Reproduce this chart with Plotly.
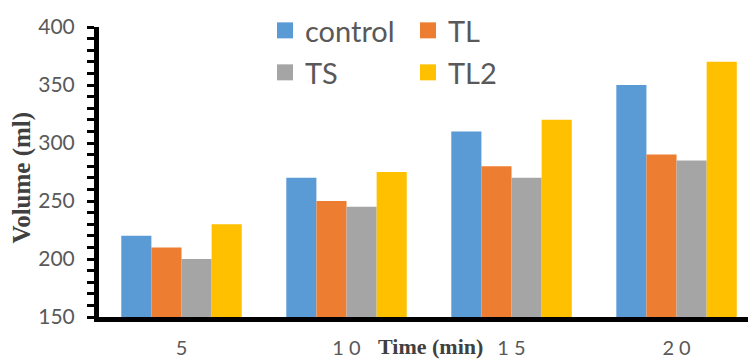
import plotly.graph_objects as go

categories = ["5", "10", "15", "20"]
tick_labels = ["5", "1 0", "1 5", "2 0"]
control = [220, 270, 310, 350]
tl = [210, 250, 280, 290]
ts = [200, 245, 270, 285]
tl2 = [230, 275, 320, 370]

series = [("control", control, "#5B9BD5", "legend"),
          ("TL", tl, "#ED7D31", "legend"),
          ("TS", ts, "#A5A5A5", "legend2"),
          ("TL2", tl2, "#FFC000", "legend2")]

W, H = 748, 359
fig = go.Figure()
for name, vals, col, lg in series:
    fig.add_trace(go.Bar(x=categories, y=vals, name=name, marker_color=col,
                         marker_line_width=0, showlegend=False))
for name, vals, col, lg in series:
    fig.add_trace(go.Scatter(x=[None], y=[None], mode="markers", name=name,
                             marker=dict(symbol="square", size=16, color=col),
                             legend=lg, showlegend=True))

legend_font = dict(family="Lato", size=29, color="#595959")
fig.update_layout(
    width=W, height=H,
    margin=dict(l=99, r=0, t=27, b=42, autoexpand=False),
    paper_bgcolor="white", plot_bgcolor="white",
    barmode="group", bargap=0.27, bargroupgap=0,
    font=dict(family="Lato", color="#595959"),
    legend=dict(orientation="h", xref="container", yref="container",
                x=265 / W, y=1 - 5 / H, xanchor="left", yanchor="top",
                entrywidthmode="pixels", entrywidth=98,
                font=legend_font, bgcolor="rgba(0,0,0,0)", itemsizing="trace"),
    legend2=dict(orientation="h", xref="container", yref="container",
                 x=265 / W, y=1 - 47 / H, xanchor="left", yanchor="top",
                 entrywidthmode="pixels", entrywidth=98,
                 font=legend_font, bgcolor="rgba(0,0,0,0)", itemsizing="trace"),
    xaxis=dict(type="category", range=[-0.5, 3.433], showline=True,
               linecolor="black", linewidth=5, ticks="", showgrid=False,
               tickvals=categories, ticktext=tick_labels,
               tickfont=dict(family="Lato", size=20, color="#595959"),
               ticklabelstandoff=9, zeroline=False),
    yaxis=dict(range=[150, 400], dtick=50, showline=True, linecolor="black",
               linewidth=5, ticks="outside", ticklen=7, tickwidth=3,
               tickcolor="black", showgrid=False, zeroline=False,
               tickfont=dict(family="Lato", size=21, color="#595959"),
               ticklabelstandoff=8,
               minor=dict(dtick=10, ticks="outside", ticklen=7, tickwidth=3,
                          tickcolor="black", showgrid=False)),
    annotations=[
        dict(text="<b>Volume (ml)</b>", xref="paper", yref="paper",
             x=(23 - 99.5) / 648.5, y=(317 - 177) / 290.3, textangle=-90,
             showarrow=False, xanchor="center", yanchor="middle",
             font=dict(family="Liberation Serif", size=25, color="#404040")),
        dict(text="<b>Time (min)</b>", xref="paper", yref="paper",
             x=(431 - 99.5) / 648.5, y=(317 - 347) / 290.3,
             showarrow=False, xanchor="center", yanchor="middle",
             font=dict(family="Liberation Serif", size=22, color="#404040")),
    ],
)
fig.write_html("out.html", config={"displayModeBar": False},
               post_script="document.body.style.margin='0';document.body.style.padding='0';")
